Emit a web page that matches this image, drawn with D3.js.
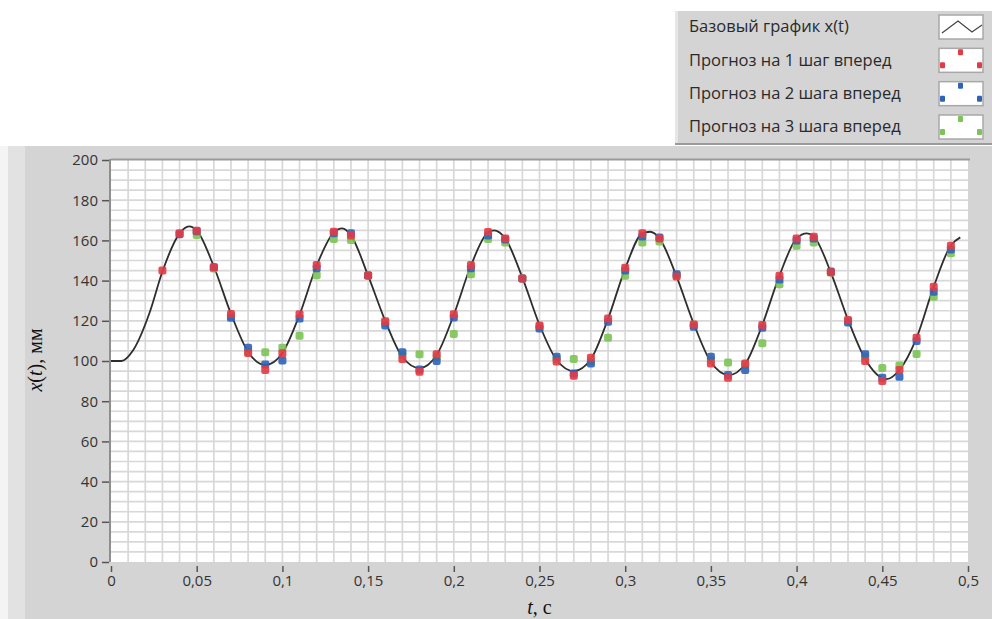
<!DOCTYPE html>
<html>
<head>
<meta charset="utf-8">
<script src="https://cdn.jsdelivr.net/npm/d3@7"></script>
<style>
  body { margin: 0; background: #fff; }
  svg { display: block; }
  .tick text { font-family: 'Open Sans', sans-serif; font-size: 15px; fill: #333; }
  .legend text { font-family: 'Open Sans', sans-serif; font-size: 16.5px; fill: #2a2a2a; }
  .axisLabel { font-family: 'Liberation Serif', 'Times New Roman', serif; font-size: 20px; fill: #111; }
</style>
</head>
<body>
<svg class="chart"></svg>
<script>
// base curve x(t)
var baseT = [0, 0.006, 0.013, 0.0225, 0.03, 0.04, 0.0455, 0.05, 0.06, 0.07, 0.08, 0.09,
  0.1, 0.11, 0.12, 0.13, 0.135, 0.14, 0.15, 0.16, 0.17, 0.18, 0.19, 0.2, 0.21, 0.22,
  0.2235, 0.23, 0.24, 0.25, 0.26, 0.27, 0.28, 0.29, 0.3, 0.31, 0.3145, 0.32, 0.33,
  0.34, 0.35, 0.3605, 0.37, 0.38, 0.39, 0.4, 0.406, 0.41, 0.42, 0.43, 0.44, 0.4525,
  0.46, 0.47, 0.48, 0.49, 0.4955];
var baseX = [100, 100, 105.5, 124, 144.5, 163.5, 167, 165, 147, 123.5, 104.5, 98,
  104, 123, 147.5, 164, 166, 162.5, 142.5, 120, 102, 96.5, 103, 123, 147.5, 164,
  165, 161, 141.5, 118, 100.5, 95, 101, 121, 146, 163.5, 164.3, 161, 142,
  118.5, 99.5, 93, 98.5, 118, 142.5, 161, 163.5, 162, 144, 120.5, 101, 91,
  95.5, 111.5, 137, 157.5, 161.5];

// forecast times 0.03 ... 0.49
var forecastT = [0.03, 0.04, 0.05, 0.06, 0.07, 0.08, 0.09, 0.1, 0.11, 0.12, 0.13, 0.14,
  0.15, 0.16, 0.17, 0.18, 0.19, 0.2, 0.21, 0.22, 0.23, 0.24, 0.25, 0.26, 0.27, 0.28,
  0.29, 0.3, 0.31, 0.32, 0.33, 0.34, 0.35, 0.36, 0.37, 0.38, 0.39, 0.4, 0.41, 0.42,
  0.43, 0.44, 0.45, 0.46, 0.47, 0.48, 0.49];
var step1 = [145, 163.5, 164.8, 146.6, 123.4, 104, 95.5, 103.8, 123.2, 147.8, 164.3, 162.4,
  142.5, 119.8, 101, 94.7, 103.3, 123.2, 147.8, 164.2, 161, 141.1, 117.6, 99.7, 92.7, 101.6,
  121.2, 146.4, 163.5, 161, 142, 118.2, 98.8, 91.7, 98.8, 117.9, 142.4, 161, 161.8, 144.1,
  120.4, 100, 90, 95.5, 111.6, 137, 157.4];
var step2 = [null, 163, 164.5, 146.6, 121.5, 106.6, 98.3, 100.2, 121.2, 146.1, 163.5, 163.5,
  142.5, 117.6, 104.3, 95.8, 100, 121.6, 146.1, 162.4, 160.5, 141, 116.2, 102.1, 93.8, 98.8,
  119.5, 145, 162, 161.5, 143.1, 117.1, 102.1, 93, 95.5, 116.5, 140.5, 160, 161, 144.5,
  119.2, 103.3, 91.7, 92.2, 110, 134.5, 155.5];
var step3 = [null, null, 162.7, 146, 122.5, 104.5, 104.3, 106.6, 112.6, 142.6, 160.7, 160.2,
  142.5, 119, 103, 103.3, 102, 113.4, 143.1, 160.7, 159, 141, 117, 101, 101, 100,
  111.6, 142.4, 159, 159.4, 142.5, 118, 100.5, 99.3, 98, 108.8, 138.2, 157.4, 159, 144,
  120, 102, 96.5, 97.7, 103.5, 132, 153.6];

var legendNames = ['Базовый график x(t)', 'Прогноз на 1 шаг вперед',
  'Прогноз на 2 шага вперед', 'Прогноз на 3 шага вперед'];
var xTicks = [0, 0.05, 0.1, 0.15, 0.2, 0.25, 0.3, 0.35, 0.4, 0.45, 0.5];
var yTicks = [0, 20, 40, 60, 80, 100, 120, 140, 160, 180, 200];

var seriesColors = ['#e23b45', '#2f63b8', '#7cc455'];

var chartWidth = 992;
var chartHeight = 619;
var panelGray = '#d4d4d4';

var x = d3.scaleLinear().domain([0, 0.5]).range([111, 968]);
var y = d3.scaleLinear().domain([0, 200]).range([562, 160]);

var chart = d3.select('.chart').attr('width', chartWidth).attr('height', chartHeight);

// main grey panel
chart.append('rect')
    .attr('x', 0).attr('y', 146)
    .attr('width', chartWidth).attr('height', chartHeight - 146)
    .style('fill', panelGray);
chart.append('rect')
    .attr('x', 0).attr('y', 146)
    .attr('width', 8).attr('height', chartHeight - 146)
    .style('fill', '#f4f4f4');
chart.append('rect')
    .attr('x', 8).attr('y', 146)
    .attr('width', 17).attr('height', chartHeight - 146)
    .style('fill', '#e2e2e2');

// plot area
chart.append('rect')
    .attr('x', x(0)).attr('y', y(200))
    .attr('width', x(0.5) - x(0)).attr('height', y(0) - y(200))
    .style('fill', '#fff');

var grid = chart.append('g').attr('class', 'grid');
grid.selectAll('line.v')
    .data(d3.range(1, 50).map(i => i / 100))
    .join('line')
    .attr('class', 'v')
    .attr('x1', d => x(d)).attr('x2', d => x(d))
    .attr('y1', y(200)).attr('y2', y(0))
    .style('stroke', '#d8d8d8').style('stroke-width', 1.7);
grid.selectAll('line.h')
    .data(d3.range(1, 40).map(i => i * 5))
    .join('line')
    .attr('class', 'h')
    .attr('x1', x(0)).attr('x2', x(0.5))
    .attr('y1', d => y(d)).attr('y2', d => y(d))
    .style('stroke', '#d8d8d8').style('stroke-width', 1.7);

// plot frame: top and left edges
chart.append('line')
    .attr('x1', x(0)).attr('x2', x(0.5) + 2)
    .attr('y1', y(200) - 0.5).attr('y2', y(200) - 0.5)
    .style('stroke', '#9a9a9a').style('stroke-width', 2);
chart.append('line')
    .attr('x1', x(0) - 1).attr('x2', x(0) - 1)
    .attr('y1', y(200) - 1).attr('y2', y(0))
    .style('stroke', '#8e8e8e').style('stroke-width', 2);

// axes
var yAxis = d3.axisLeft(y).tickValues(yTicks).tickSize(7).tickPadding(4);
chart.append('g')
    .attr('transform', 'translate(' + (x(0) - 2) + ',0)')
    .call(yAxis)
    .call(g => g.select('.domain').remove())
    .call(g => g.selectAll('.tick line').style('stroke', '#555').style('stroke-width', 1.5));

var xAxis = d3.axisBottom(x).tickValues(xTicks).tickSize(6).tickPadding(3)
    .tickFormat(d => String(+d.toFixed(2)).replace('.', ','));
chart.append('g')
    .attr('transform', 'translate(0,' + (y(0) + 4) + ')')
    .call(xAxis)
    .call(g => g.select('.domain').remove())
    .call(g => g.selectAll('.tick line').style('stroke', '#555').style('stroke-width', 1.5));

// axis titles
var yLabel = chart.append('text')
    .attr('class', 'axisLabel')
    .attr('transform', 'translate(42,360) rotate(-90)')
    .attr('text-anchor', 'middle');
yLabel.append('tspan').style('font-style', 'italic').text('x');
yLabel.append('tspan').text('(');
yLabel.append('tspan').style('font-style', 'italic').text('t');
yLabel.append('tspan').text('), мм');

var xLabel = chart.append('text')
    .attr('class', 'axisLabel')
    .attr('x', x(0.25)).attr('y', 614)
    .attr('text-anchor', 'middle');
xLabel.append('tspan').style('font-style', 'italic').text('t');
xLabel.append('tspan').text(', с');

// base curve
var baseData = baseT.map((t, i) => ({t: t, v: baseX[i]}));
var line = d3.line().x(d => x(d.t)).y(d => y(d.v)).curve(d3.curveMonotoneX);
chart.append('path')
    .datum(baseData)
    .attr('d', line)
    .style('fill', 'none')
    .style('stroke', '#2e2e2e')
    .style('stroke-width', 1.8);

// forecast markers, 3-step underneath, 1-step on top
var stepSeries = [step3, step2, step1];
var stepColors = [seriesColors[2], seriesColors[1], seriesColors[0]];
var markerSize = 8;
stepSeries.forEach(function(vals, k) {
  var pts = forecastT.map((t, i) => ({t: t, v: vals[i]})).filter(d => d.v !== null);
  chart.append('g')
      .selectAll('rect')
      .data(pts)
      .join('rect')
      .attr('x', d => x(d.t) - markerSize / 2)
      .attr('y', d => y(d.v) - markerSize / 2)
      .attr('width', markerSize).attr('height', markerSize)
      .attr('rx', 2)
      .style('fill', stepColors[k])
      .style('opacity', 0.9);
});

// legend
var legend = chart.append('g').attr('class', 'legend');
legend.append('rect')
    .attr('x', 675).attr('y', 11)
    .attr('width', chartWidth - 675).attr('height', 133)
    .style('fill', panelGray);
legend.append('rect')
    .attr('x', 675).attr('y', 11)
    .attr('width', 3).attr('height', 133)
    .style('fill', '#e6e6e6');
legend.append('line')
    .attr('x1', 675).attr('x2', chartWidth)
    .attr('y1', 144).attr('y2', 144)
    .style('stroke', '#9a9a9a').style('stroke-width', 2);

var rowY = d3.scaleLinear().domain([0, 3]).range([28, 128]);
var rows = legend.selectAll('g.row')
    .data(legendNames)
    .join('g')
    .attr('class', 'row')
    .attr('transform', (d, i) => 'translate(0,' + rowY(i) + ')');

rows.append('text')
    .attr('x', 689).attr('y', 0)
    .attr('dominant-baseline', 'middle')
    .text(d => d);

rows.append('rect')
    .attr('x', 939).attr('y', -13)
    .attr('width', 44).attr('height', 24)
    .style('fill', '#fff')
    .style('stroke', '#a8a8a8').style('stroke-width', 1.5);

rows.filter((d, i) => i === 0)
    .append('path')
    .attr('d', 'M942,5 L958,-7 L972,4 L982,-3')
    .style('fill', 'none').style('stroke', '#444').style('stroke-width', 1.2);

rows.filter((d, i) => i > 0)
    .each(function(d, i) {
      var g = d3.select(this);
      [[942, 4], [960, -9], [979, 4]].forEach(function(p) {
        g.append('rect')
            .attr('x', p[0] - 2).attr('y', p[1] - 3)
            .attr('width', 5).attr('height', 6)
            .attr('rx', 1)
            .style('fill', seriesColors[i]);
      });
    });
</script>
</body>
</html>
